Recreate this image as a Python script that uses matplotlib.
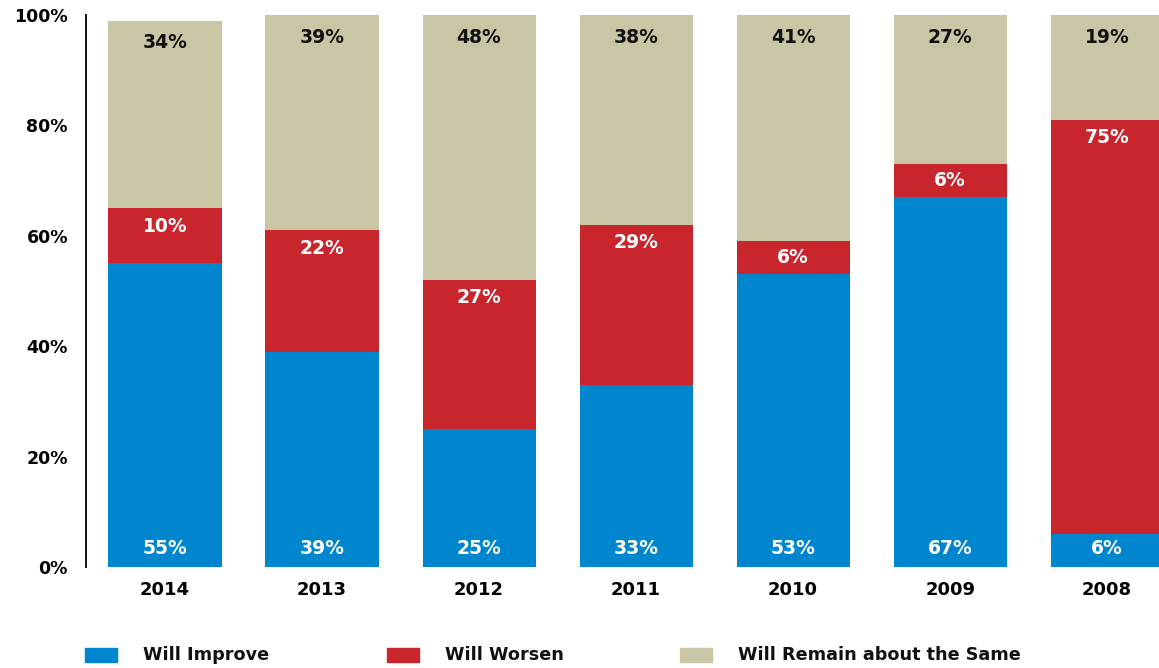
import numpy as np
import matplotlib
matplotlib.use("Agg")
import matplotlib.pyplot as plt
from matplotlib.patches import Rectangle

# Outlook survey, share of answers per year
years = ["2014", "2013", "2012", "2011", "2010", "2009", "2008"]
improve = [55, 39, 25, 33, 53, 67, 6]
worsen = [10, 22, 27, 29, 6, 6, 75]
same = [34, 39, 48, 38, 41, 27, 19]

series_names = ["Will Improve", "Will Worsen", "Will Remain about the Same"]
colors = ["#0086CE", "#C9252D", "#C8C6A4"]
label_colors = ["white", "white", "#111111"]
top_offsets = [18, -18, -22]

plt.rcParams["font.family"] = ["DejaVu Sans"]
plt.rcParams["font.weight"] = "bold"

fig = plt.figure(figsize=(11.59, 6.68), dpi=100)
ax = fig.add_axes([0.0742, 0.1512, 1 - 0.0742, 0.8263])

x = np.arange(len(years))
width = 0.72
bottom = np.zeros(len(years))
for i, (vals, color, tcol) in enumerate(zip([improve, worsen, same], colors, label_colors)):
    vals = np.array(vals, dtype=float)
    ax.bar(x, vals, width, bottom=bottom, color=color, edgecolor="none")
    for xi, b, v in zip(x, bottom, vals):
        if i == 0:
            # improve labels sit at the foot of the bar
            y, off = b, top_offsets[i]
        elif v < 10:
            y, off = b + v / 2, 0
        else:
            y, off = b + v, top_offsets[i]
        ax.annotate(f"{int(v)}%", (xi, y), xytext=(0, off), textcoords="offset pixels",
                    ha="center", va="center", color=tcol, fontsize=13.5, fontweight="bold")
    bottom += vals

ax.set_xlim(-0.503, 6.33)
ax.set_ylim(0, 100)
ax.set_yticks([0, 20, 40, 60, 80, 100])
ax.set_yticklabels([f"{t}%" for t in [0, 20, 40, 60, 80, 100]])
ax.set_xticks(x)
ax.set_xticklabels(years)
ax.tick_params(axis="y", length=0, pad=13, labelsize=12.5)
ax.tick_params(axis="x", length=0, pad=10, labelsize=13)
for side in ["top", "right", "bottom"]:
    ax.spines[side].set_visible(False)
ax.spines["left"].set_linewidth(1.3)
ax.spines["left"].set_color("black")

# legend row along the bottom
leg_x = [85, 387, 680]
W, H = 1159, 668
for lx, name, color in zip(leg_x, series_names, colors):
    fig.add_artist(Rectangle((lx / W, (H - 662) / H), 32 / W, 14 / H,
                             transform=fig.transFigure, color=color))
    fig.text((lx + 58) / W, (H - 655) / H, name, ha="left", va="center",
             fontsize=12.7, fontweight="bold", color="#111111")

fig.savefig("out.png", dpi=100)
